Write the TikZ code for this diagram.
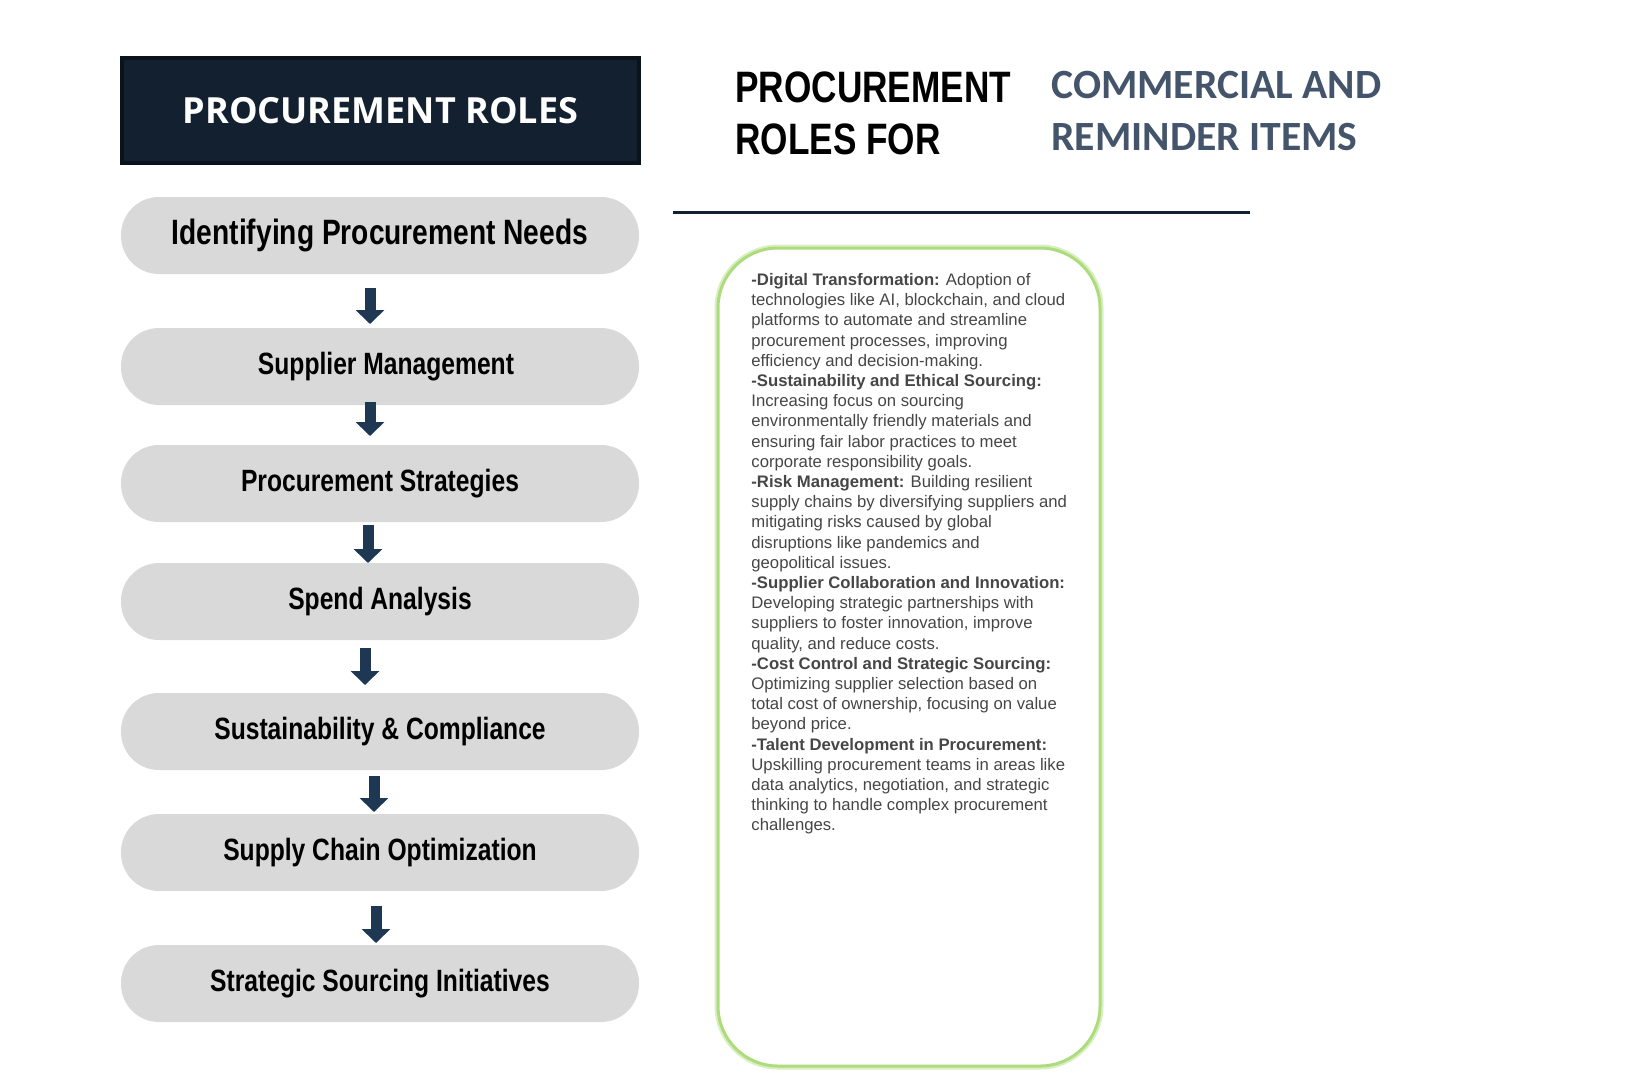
\documentclass[tikz,border=0pt]{standalone}
\usepackage{fontspec}
\usepackage{tikz}
\usetikzlibrary{arrows.meta}
\setmainfont{Carlito}
\newfontfamily\condfont[FakeStretch=0.8]{Liberation Sans}
\newfontfamily\headfont{Open Sans}
\newfontfamily\bodyfont{Liberation Sans}
\definecolor{navy}{RGB}{19,32,48}
\definecolor{navyedge}{RGB}{10,18,27}
\definecolor{pillgray}{RGB}{217,217,217}
\definecolor{arrowblue}{RGB}{30,56,84}
\definecolor{slate}{RGB}{68,84,106}
\definecolor{leaf}{RGB}{146,208,80}
\definecolor{blurtext}{RGB}{70,70,70}

\begin{document}
\begin{tikzpicture}[x=0.5pt, y=-0.5pt,
	head/.style={fill=navy, draw=navyedge, line width=2pt, minimum width=258.5pt, minimum height=52.5pt, inner sep=0pt, text=white, font=\headfont\bfseries\fontsize{18}{22}\selectfont},
	pill/.style={fill=pillgray, rounded corners=19pt, minimum width=259pt, minimum height=38.5pt, inner sep=0pt, outer sep=0pt, font=\condfont\bfseries\fontsize{15.4}{18}\selectfont},
	flow/.style={draw=arrowblue, line width=5.5pt, -{Triangle[width=14pt,length=7pt]}},
	panel/.style={draw=leaf!75, line width=1.5pt, preaction={draw=leaf!35, line width=3.5pt}, fill=white, rounded corners=30pt, minimum width=191pt, minimum height=409pt, inner sep=0pt}]
		\useasboundingbox (0,0) rectangle (1625,1072);
		\node[head] (roles) at (380.5,110.5) {PROCUREMENT ROLES};
		\node[pill, font=\condfont\bfseries\fontsize{17.6}{20}\selectfont] (1) at (380,235.5) {Identifying Procurement Needs};
		\node[pill] (2) at (380,366.5) {\hspace*{6pt}Supplier Management};
		\node[pill] (3) at (380,483.5) {Procurement Strategies};
		\node[pill] (4) at (380,601.5) {Spend Analysis};
		\node[pill] (5) at (380,731.5) {Sustainability \& Compliance};
		\node[pill] (6) at (380,852.5) {Supply Chain Optimization};
		\node[pill] (7) at (380,983.5) {Strategic Sourcing Initiatives};
		\draw[flow] ([xshift=-5pt,yshift=-7pt]1.south) to ([xshift=-5pt,yshift=2pt]2.north);
		\draw[flow] ([xshift=-5pt,yshift=1.5pt]2.south) to ([xshift=-5pt,yshift=4.5pt]3.north);
		\draw[flow] ([xshift=-6pt,yshift=-1.5pt]3.south) to ([xshift=-6pt]4.north);
		\draw[flow] ([xshift=-7.5pt,yshift=-4pt]4.south) to ([xshift=-7.5pt,yshift=4pt]5.north);
		\draw[flow] ([xshift=-3pt,yshift=-3pt]5.south) to ([xshift=-3pt,yshift=1pt]6.north);
		\draw[flow] ([xshift=-2pt,yshift=-7.5pt]6.south) to ([xshift=-2pt,yshift=1pt]7.north);
		\node[anchor=north west, align=left, inner sep=0pt, font=\condfont\bfseries\fontsize{22}{26}\selectfont] (title) at (735,71) {PROCUREMENT\\ROLES FOR};
		\node[anchor=north west, align=left, inner sep=0pt, text=slate, font=\bfseries\fontsize{20.8}{26}\selectfont] (items) at (1051,71) {COMMERCIAL AND\\REMINDER ITEMS};
		\coordinate (r1) at (673,212);
		\coordinate (r2) at (1250,212);
		\draw[navy, line width=1.5pt] (r1) to (r2);
		\node[panel] (panel) at (909,657) {};
		\node[anchor=north west, align=left, inner sep=0pt, text=blurtext, font=\bodyfont\fontsize{8.35}{10.1}\selectfont] (trends) at (751,273) {\textbf{-Digital Transformation:} Adoption of\\
technologies like AI, blockchain, and cloud\\
platforms to automate and streamline\\
procurement processes, improving\\
efficiency and decision-making.\\
\textbf{-Sustainability and Ethical Sourcing:}\\
Increasing focus on sourcing\\
environmentally friendly materials and\\
ensuring fair labor practices to meet\\
corporate responsibility goals.\\
\textbf{-Risk Management:} Building resilient\\
supply chains by diversifying suppliers and\\
mitigating risks caused by global\\
disruptions like pandemics and\\
geopolitical issues.\\
\textbf{-Supplier Collaboration and Innovation:}\\
Developing strategic partnerships with\\
suppliers to foster innovation, improve\\
quality, and reduce costs.\\
\textbf{-Cost Control and Strategic Sourcing:}\\
Optimizing supplier selection based on\\
total cost of ownership, focusing on value\\
beyond price.\\
\textbf{-Talent Development in Procurement:}\\
Upskilling procurement teams in areas like\\
data analytics, negotiation, and strategic\\
thinking to handle complex procurement\\
challenges.};
	\end{tikzpicture}
\end{document}
